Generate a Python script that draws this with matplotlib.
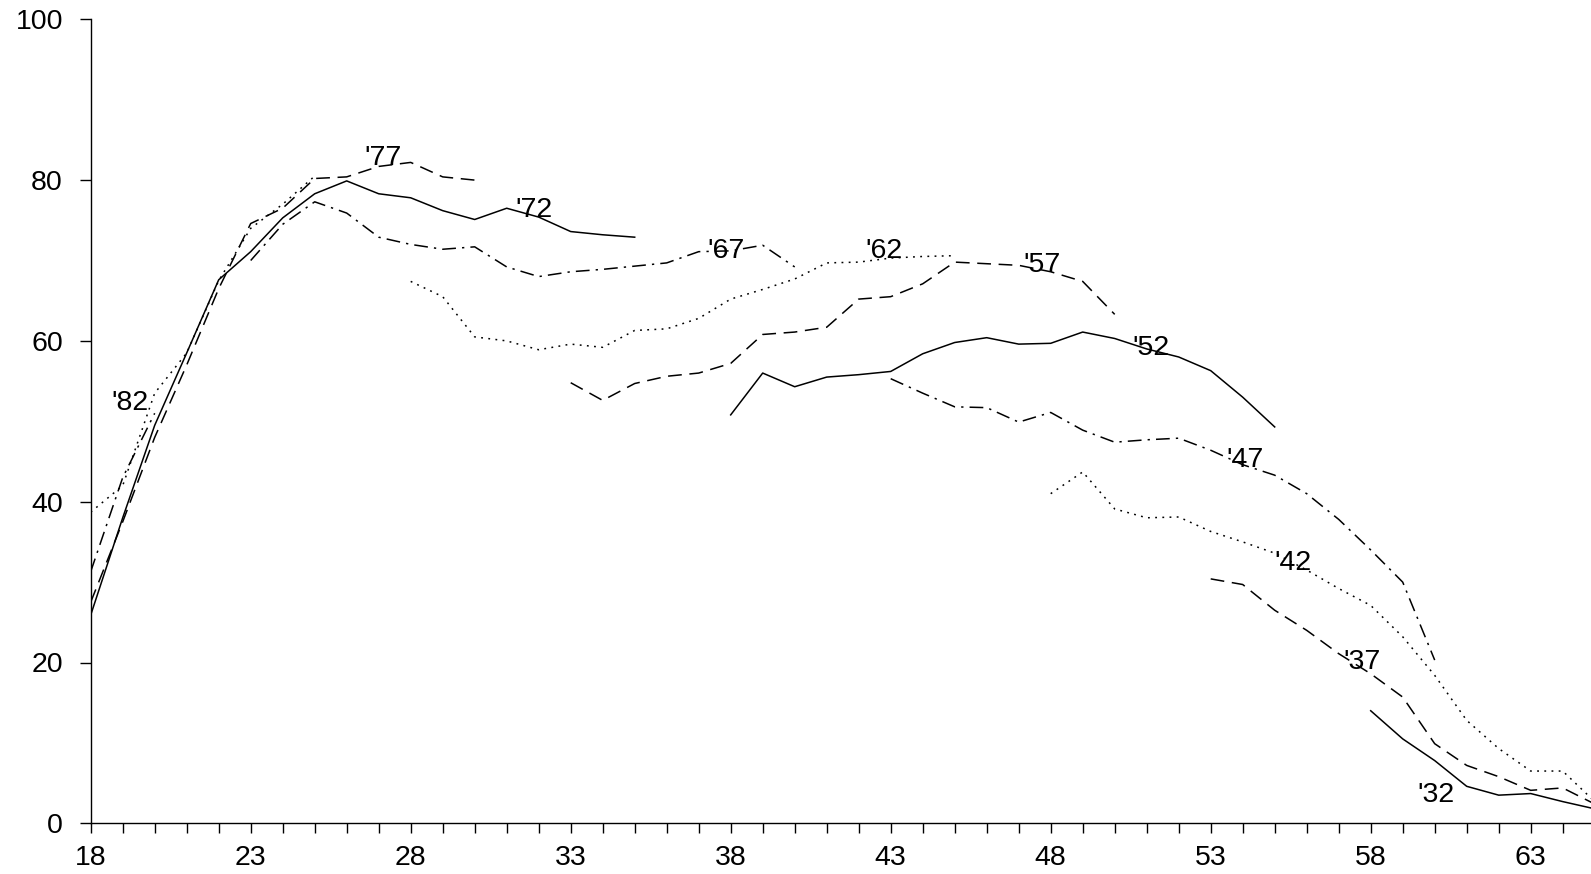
import matplotlib
matplotlib.use("Agg")
import matplotlib.pyplot as plt
from matplotlib.ticker import MultipleLocator

plt.rcParams['font.family'] = ['Liberation Sans', 'DejaVu Sans']

# cohort curves, value by age starting at start_age
cohorts = ["'32", "'37", "'42", "'47", "'52", "'57", "'62", "'67", "'72", "'77", "'82", "'87"]
start_ages = [58, 53, 48, 43, 38, 33, 28, 23, 18, 18, 18, 18]

v32 = [14.0, 10.5, 7.8, 4.6, 3.5, 3.7, 2.7, 1.8]
v37 = [30.4, 29.7, 26.5, 24.0, 21.1, 18.6, 15.7, 9.9, 7.2, 5.8, 4.1, 4.4, 2.4]
v42 = [41.0, 43.7, 39.1, 38.0, 38.1, 36.3, 35.0, 33.6, 31.5, 29.2, 27.1, 23.2,
       18.4, 12.8, 9.3, 6.5, 6.5, 2.7]
v47 = [55.3, 53.5, 51.8, 51.7, 49.9, 51.1, 48.9, 47.4, 47.7, 47.9, 46.4, 44.6,
       43.3, 41.0, 37.8, 34.0, 30.0, 20.3]
v52 = [50.8, 56.0, 54.3, 55.5, 55.8, 56.2, 58.4, 59.8, 60.4, 59.6, 59.7, 61.1,
       60.3, 59.0, 58.0, 56.3, 53.0, 49.3]
v57 = [54.8, 52.6, 54.7, 55.6, 56.0, 57.2, 60.8, 61.1, 61.7, 65.2, 65.5, 67.1,
       69.8, 69.6, 69.4, 68.6, 67.4, 63.3]
v62 = [67.4, 65.5, 60.5, 60.0, 58.9, 59.6, 59.2, 61.3, 61.5, 62.8, 65.2, 66.4,
       67.7, 69.7, 69.8, 70.3, 70.5, 70.6]
v67 = [70.0, 74.5, 77.3, 75.9, 72.9, 72.0, 71.4, 71.7, 69.2, 68.0, 68.6, 68.9,
       69.3, 69.7, 71.1, 71.2, 71.9, 69.2]
v72 = [25.9, 38.0, 49.5, 58.5, 67.6, 71.1, 75.3, 78.3, 79.9, 78.3, 77.8, 76.2,
       75.1, 76.5, 75.4, 73.6, 73.2, 72.9]
v77 = [27.5, 37.5, 48.0, 57.0, 66.5, 74.6, 76.5, 80.2, 80.4, 81.7, 82.2, 80.4, 80.0]
v82 = [38.7, 42.0, 53.5, 58.5, 67.5, 74.0, 77.0, 80.5]
v87 = [31.3, 43.0, 51.0]

series = [v32, v37, v42, v47, v52, v57, v62, v67, v72, v77, v82, v87]

styles = ['-', (0, (9, 5)), (0, (1.2, 3.5)), (0, (9, 4, 1.5, 4))]

# where each cohort name is written (age, value)
label_pos = {
    "'32": (59.45, 2.7), "'37": (57.15, 19.15), "'42": (55.0, 31.5),
    "'47": (53.5, 44.35), "'52": (50.55, 58.25), "'57": (47.15, 68.6),
    "'62": (42.2, 70.3), "'67": (37.27, 70.3), "'72": (31.27, 75.45),
    "'77": (26.55, 81.9), "'82": (18.65, 51.4),
}

fig = plt.figure(figsize=(15.91, 8.74), dpi=100)
ax = fig.add_axes([90.7 / 1591, 50.7 / 874, 1504 / 1591, 804 / 874])

for i, vals in enumerate(series):
    ages = list(range(start_ages[i], start_ages[i] + len(vals)))
    ax.plot(ages, vals, color='black', linewidth=1.1, linestyle=styles[i % 4])

for name, (x, y) in label_pos.items():
    ax.text(x, y, name, fontsize=20.5, ha='left', va='baseline', color='black')

ax.set_xlim(18, 65)
ax.set_ylim(0, 100)
ax.set_xticks(range(18, 64, 5))
ax.xaxis.set_minor_locator(MultipleLocator(1))
ax.set_yticks(range(0, 101, 20))
ax.tick_params(axis='x', which='both', direction='out', length=7.5, width=1.0,
               labelsize=20.5, pad=8)
ax.tick_params(axis='y', direction='out', length=8, width=1.0, labelsize=20.5, pad=12)
ax.spines['top'].set_visible(False)
ax.spines['right'].set_visible(False)
for s in ['left', 'bottom']:
    ax.spines[s].set_linewidth(1.0)

fig.savefig('out.png', dpi=100)
